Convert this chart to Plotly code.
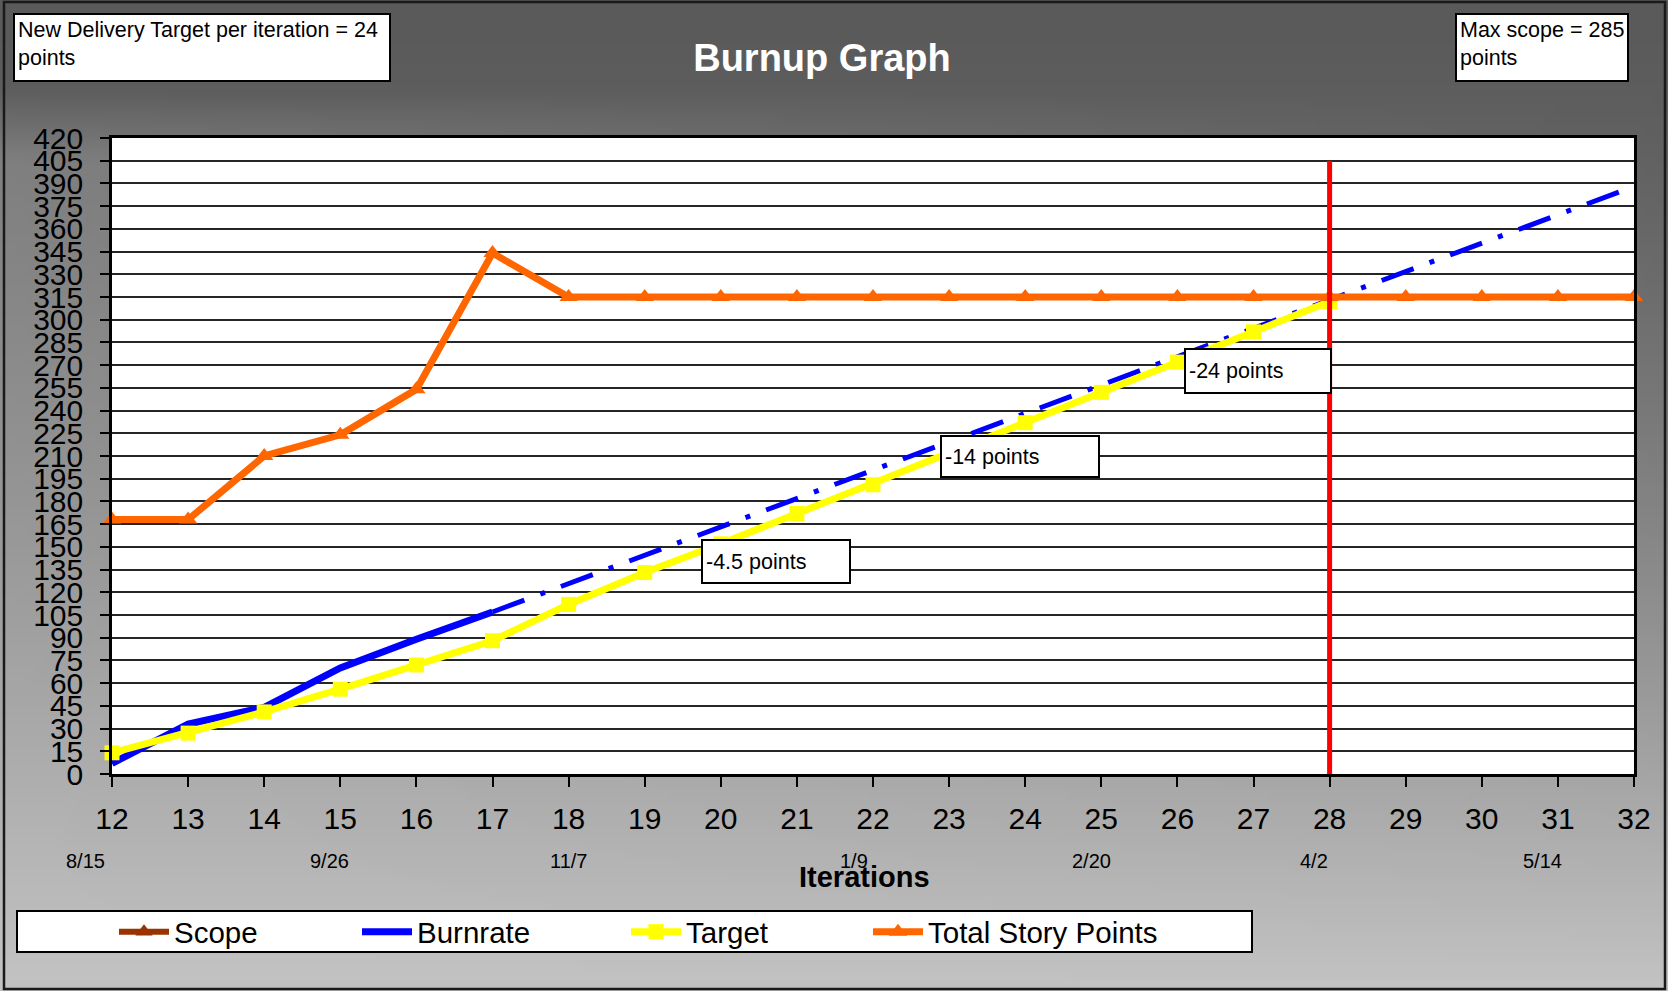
import zlib, struct, base64
import plotly.graph_objects as go

# ---------------- data ----------------
iterations = list(range(12, 33))
total_story_points = [168, 168, 210, 224, 254, 344, 315, 315, 315, 315, 315,
                      315, 315, 315, 315, 315, 315, 315, 315, 315, 315]
burn_iters = [12, 13, 14, 15, 16, 17]
burnrate = [7, 33, 44, 70, 89, 107]
projection_iters = [17, 32]
projection = [107, 388]
target_iters = list(range(12, 29))
target = [14, 27, 41, 56, 72, 88, 112, 133, 152, 172, 191, 211, 232, 252, 272, 292, 312]
release_iteration = 28
release_span = [0, 405]
date_labels = ["8/15", "9/26", "11/7", "1/9", "2/20", "4/2", "5/14"]
date_pos = [11.65, 14.86, 18.0, 21.75, 24.87, 27.8, 30.8]
gap_labels = ["-4.5 points", "-14 points", "-24 points"]
gap_x = [19.74, 22.88, 26.09]
gap_y = [155.2, 223.9, 281.4]
gap_w = [150, 160, 148]
gap_h = [45, 43, 46]
legend_names = ["Scope", "Burnrate", "Target", "Total Story Points"]
legend_left = [114, 357, 626, 868]

# ---------------- geometry ----------------
W, H = 1668, 991
L, R, T, B = 112, 34, 138, 217
PW, PH = W - L - R, H - T - B
FONT = "Liberation Sans, Arial, sans-serif"


def px(x):
    return (x - L) / PW


def py(y):
    return (H - B - y) / PH


def shade(x, y):
    yn = y / H
    xn = x / W
    tv = yn ** 1.4
    s = min(1.0, max(0.0, (y - 90) / 70))
    t = tv + 0.3 * (1 - xn) * s * (1 - tv)
    return int(90 + 106 * min(1.0, t))


def png_gray(w, h):
    raw = bytearray()
    for j in range(h):
        raw.append(0)
        for i in range(w):
            raw.append(shade((i + 0.5) / w * W, (j + 0.5) / h * H))

    def chunk(t, d):
        c = struct.pack(">I", len(d)) + t + d
        return c + struct.pack(">I", zlib.crc32(t + d) & 0xffffffff)

    png = (b"\x89PNG\r\n\x1a\n"
           + chunk(b"IHDR", struct.pack(">IIBBBBB", w, h, 8, 0, 0, 0, 0))
           + chunk(b"IDAT", zlib.compress(bytes(raw)))
           + chunk(b"IEND", b""))
    return "data:image/png;base64," + base64.b64encode(png).decode()


fig = go.Figure()

fig.add_trace(go.Scatter(x=[None], y=[None], name=legend_names[0], mode="lines+markers",
                         legend="legend",
                         line=dict(color="#993300", width=6),
                         marker=dict(symbol="triangle-up", size=15, color="#993300")))
fig.add_trace(go.Scatter(x=burn_iters, y=burnrate, name=legend_names[1], mode="lines",
                         legend="legend2",
                         line=dict(color="#0000ff", width=7)))
fig.add_trace(go.Scatter(x=projection_iters, y=projection, name="Projection", mode="lines",
                         showlegend=False,
                         line=dict(color="#0000ff", width=5, dash="34px,17px,5px,17px")))
fig.add_trace(go.Scatter(x=target_iters, y=target, name=legend_names[2], mode="lines+markers",
                         legend="legend3",
                         line=dict(color="#ffff00", width=7), cliponaxis=False,
                         marker=dict(symbol="square", size=15, color="#ffff00")))
fig.add_trace(go.Scatter(x=iterations, y=total_story_points, name=legend_names[3],
                         legend="legend4",
                         mode="lines+markers", cliponaxis=False,
                         line=dict(color="#ff6600", width=7),
                         marker=dict(symbol="triangle-up", size=16, color="#ff6600")))
fig.add_trace(go.Scatter(x=[release_iteration, release_iteration], y=release_span,
                         mode="lines", showlegend=False,
                         line=dict(color="#ff0000", width=5)))

shapes = [
    dict(type="rect", xref="paper", yref="paper", x0=px(4), x1=px(1665), y0=py(989), y1=py(2),
         fillcolor="rgba(0,0,0,0)", line=dict(color="#1a1a1a", width=2.5), layer="below"),
    dict(type="rect", xref="paper", yref="paper", x0=0, x1=1, y0=0, y1=1,
         fillcolor="white", line=dict(width=0), layer="below"),
    dict(type="rect", xref="paper", yref="paper", x0=px(17), x1=px(1252), y0=py(952), y1=py(911),
         fillcolor="white", line=dict(color="black", width=2), layer="below"),
]

annotations = []
annotations.append(dict(xref="paper", yref="paper", x=px(13), y=py(13), xanchor="left", yanchor="top",
                        text="New Delivery Target per iteration = 24<br>points", align="left",
                        valign="top", width=368, height=59, showarrow=False,
                        bgcolor="white", bordercolor="black", borderwidth=2, borderpad=3,
                        font=dict(family=FONT, size=21.5, color="black")))
annotations.append(dict(xref="paper", yref="paper", x=px(1455), y=py(13), xanchor="left", yanchor="top",
                        text="Max scope = 285<br>points", align="left",
                        valign="top", width=164, height=59, showarrow=False,
                        bgcolor="white", bordercolor="black", borderwidth=2, borderpad=3,
                        font=dict(family=FONT, size=21.5, color="black")))
for lab, gx, gy, gw, gh in zip(gap_labels, gap_x, gap_y, gap_w, gap_h):
    annotations.append(dict(xref="x", yref="y", x=gx, y=gy, xanchor="left", yanchor="top",
                            text=lab, align="left", valign="middle", width=gw - 10, height=gh - 10,
                            showarrow=False, bgcolor="white", bordercolor="black",
                            borderwidth=2, borderpad=3,
                            font=dict(family=FONT, size=21.5, color="black")))
for d, dx in zip(date_labels, date_pos):
    annotations.append(dict(xref="paper", yref="paper", x=(dx - iterations[0]) / (iterations[-1] - iterations[0]),
                            y=py(861), text=d, showarrow=False,
                            xanchor="center", yanchor="middle",
                            font=dict(family=FONT, size=20, color="black")))
annotations.append(dict(xref="paper", yref="paper", x=px(864), y=py(877), text="<b>Iterations</b>",
                        showarrow=False, xanchor="center", yanchor="middle",
                        font=dict(family=FONT, size=29, color="black")))

legend_common = dict(orientation="h", yanchor="middle", xanchor="left",
                     bgcolor="rgba(0,0,0,0)", borderwidth=0, itemwidth=50,
                     font=dict(family=FONT, size=29.5, color="black"))
legends = {}
for i, lx in enumerate(legend_left):
    key = "legend" if i == 0 else "legend%d" % (i + 1)
    legends[key] = dict(legend_common, x=px(lx), y=py(932))

fig.update_layout(
    width=W, height=H, autosize=False,
    margin=dict(l=L, r=R, t=T, b=B, pad=0),
    paper_bgcolor="#8c8c8c", plot_bgcolor="white",
    title=dict(text="<b>Burnup Graph</b>", x=822 / W, y=1 - 58 / H, xanchor="center", yanchor="middle",
               xref="container", yref="container",
               font=dict(family=FONT, size=38, color="white")),
    font=dict(family=FONT, color="black"),
    images=[dict(source=png_gray(167, 99), xref="paper", yref="paper", x=px(0), y=py(0),
                 sizex=W / PW, sizey=H / PH, sizing="stretch", layer="below",
                 xanchor="left", yanchor="top")],
    shapes=shapes,
    annotations=annotations,
    showlegend=True,
    xaxis=dict(range=[12, 32], tickmode="array", tickvals=iterations, ticktext=[str(i) for i in iterations],
               showgrid=False, zeroline=False, showline=True, linecolor="black", linewidth=2.5,
               mirror=True, ticks="outside", ticklen=10, tickwidth=1.5, tickcolor="black",
               tickfont=dict(family=FONT, size=30, color="black"), ticklabelstandoff=6),
    yaxis=dict(range=[0, 420], tickmode="linear", tick0=0, dtick=15,
               showgrid=True, gridcolor="#262626", gridwidth=1.5, zeroline=False,
               showline=True, linecolor="black", linewidth=2.5, mirror=True,
               ticks="outside", ticklen=9, tickwidth=1.5, tickcolor="black",
               tickfont=dict(family=FONT, size=30, color="black"), ticklabelstandoff=11),
    **legends,
)

fig.write_html("out.html", config={"displayModeBar": False},
               post_script="document.body.style.margin='0';document.body.style.overflow='hidden';")
